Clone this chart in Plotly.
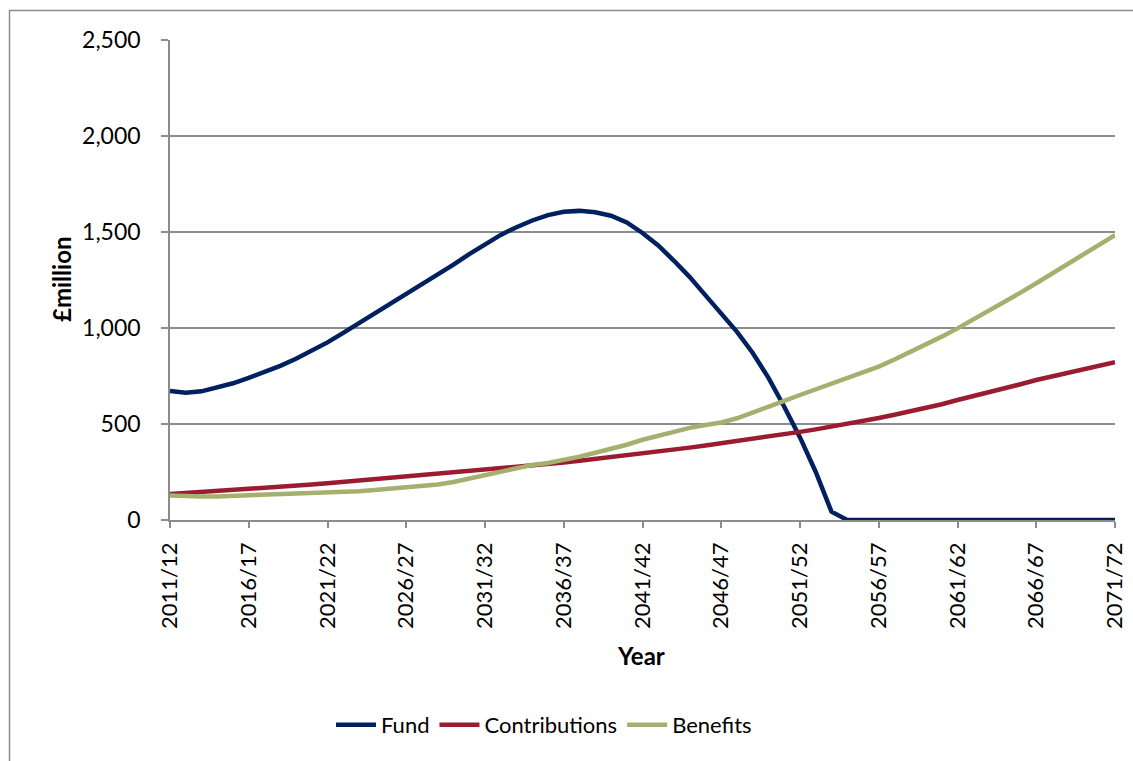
import plotly.graph_objects as go

years = [f"{y}/{(y + 1) % 100:02d}" for y in range(2011, 2072)]
tick_labels = years[::5]

fund = [672, 663, 670, 688, 712, 740, 770, 803, 840, 880,
        925, 975, 1025, 1075, 1125, 1175, 1225, 1275, 1330, 1385,
        1435, 1485, 1525, 1560, 1588, 1605, 1610, 1603, 1585, 1550,
        1495, 1430, 1350, 1265, 1170, 1075, 980, 870, 740, 590,
        430, 250, 43, 0, 0, 0, 0, 0, 0, 0,
        0, 0, 0, 0, 0, 0, 0, 0, 0, 0, 0]

contributions = [135, 140, 145, 150, 155, 160, 166, 172, 178, 185,
                 192, 199, 206, 213, 221, 228, 234, 240, 246, 253,
                 260, 267, 275, 283, 291, 299, 309, 318, 327, 337,
                 347, 356, 366, 377, 388, 399, 410, 421, 433, 446,
                 459, 472, 486, 500, 515, 531, 548, 565, 583, 603,
                 625, 644, 664, 685, 707, 729, 747, 765, 784, 803, 822]

benefits = [128, 124, 122, 123, 126, 129, 131, 133, 135, 138,
            141, 145, 150, 156, 163, 170, 177, 185, 198, 215,
            233, 250, 268, 287, 297, 312, 330, 350, 370, 392,
            418, 440, 462, 480, 495, 508, 530, 558, 588, 620,
            651, 680, 708, 737, 767, 799, 836, 874, 914, 955,
            998, 1043, 1088, 1135, 1184, 1233, 1282, 1332, 1382, 1433, 1484]

series = [("Fund", fund, "#002060"),
          ("Contributions", contributions, "#9B1B30"),
          ("Benefits", benefits, "#A6AF6E")]

FONT = "Lato"
fig = go.Figure()
for name, vals, col in series:
    fig.add_trace(go.Scatter(x=years, y=vals, name=name, mode="lines",
                             line=dict(color=col, width=4.5)))

W, H = 1133, 761
L, R, T, B = 170, 1115, 40, 520
pw, ph = R - L, B - T

def px(x):
    return (x - L) / pw

def py(y):
    return (B - y) / ph

fig.update_layout(
    width=W, height=H,
    margin=dict(l=L, r=W - R, t=T, b=H - B, pad=0, autoexpand=False),
    paper_bgcolor="white", plot_bgcolor="white",
    font=dict(family=FONT, size=22, color="black"),
    showlegend=True,
    legend=dict(orientation="h", x=px(544), xanchor="center",
                y=py(725), yanchor="middle", font=dict(size=22),
                itemwidth=40, tracegroupgap=0),
    xaxis=dict(type="category", range=[0, 60], tickvals=tick_labels,
               ticktext=tick_labels, tickangle=-90, showgrid=False,
               automargin=False,
               showline=True, linecolor="#8c8c8c", linewidth=1.5,
               ticks="outside", ticklen=6, tickcolor="#8c8c8c", tickwidth=1.5,
               ticklabelstandoff=6, tickfont=dict(size=22)),
    yaxis=dict(range=[0, 2500], tickvals=[0, 500, 1000, 1500, 2000, 2500],
               tickformat=",d", showgrid=True, gridcolor="#8c8c8c", gridwidth=1.5,
               automargin=False,
               showline=True, linecolor="#8c8c8c", linewidth=1.5,
               ticks="outside", ticklen=7, tickcolor="#8c8c8c", tickwidth=1.5,
               ticklabelstandoff=16, zeroline=False, tickfont=dict(size=23)),
    annotations=[
        dict(text="<b>£million</b>", x=px(61), y=0.5, xref="paper", yref="paper",
             textangle=-90, showarrow=False, font=dict(size=24),
             xanchor="center", yanchor="middle"),
        dict(text="<b>Year</b>", x=px(641), y=py(655), xref="paper", yref="paper",
             showarrow=False, font=dict(size=24), xanchor="center", yanchor="middle"),
    ],
    shapes=[dict(type="rect", xref="paper", yref="paper",
                 x0=px(9.5), x1=px(1145), y0=py(775), y1=py(10.5),
                 line=dict(color="#8c8c8c", width=1.5), fillcolor="rgba(0,0,0,0)",
                 layer="below")],
)

fig.write_html("out.html")
